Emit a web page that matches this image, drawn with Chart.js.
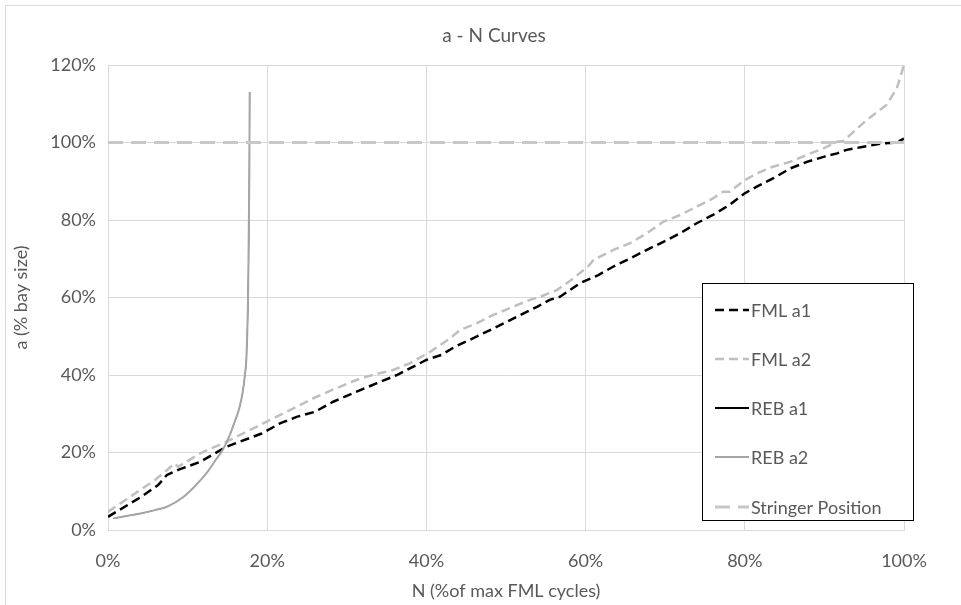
<!DOCTYPE html>
<html>
<head>
<meta charset="utf-8">
<script src="https://cdn.jsdelivr.net/npm/chart.js@4"></script>
<style>
  html, body { margin: 0; padding: 0; background: #fff; }
  #wrap { position: relative; width: 961px; height: 605px; }
</style>
</head>
<body>
<div id="wrap"><canvas id="c" width="961" height="605"></canvas></div>
<script>
// ---- data ----
const chartTitle = 'a - N Curves';
const xTitle = 'N (%of max FML cycles)';
const yTitle = 'a (% bay size)';
const seriesNames = ['FML a1', 'FML a2', 'REB a1', 'REB a2', 'Stringer Position'];

const fmlA1N = [0, 4.2, 6.3, 7.4, 8.8, 11.6, 14.9, 19.3, 21.6, 23.7, 26, 28.3, 31.7, 33.8, 36.3, 40.0, 41.9, 43.6, 45.9, 48, 49.7, 51.8, 53.9, 55.5, 56.8, 59.3, 61.6, 63.5, 65.6, 67.7, 70.2, 71.9, 73.9, 76, 78.1, 80, 81.5, 83.6, 85.7, 87.8, 89.9, 91.6, 92.8, 94.9, 97.4, 99.1, 100];
const fmlA1  = [3.4, 8.6, 11.6, 14.2, 15.5, 17.6, 21.5, 24.9, 27.5, 29.2, 30.5, 33.1, 36.1, 37.9, 40, 43.9, 45.2, 47.3, 49.5, 51.6, 53.3, 55.5, 57.6, 59.4, 60.2, 63.7, 65.8, 68, 70.1, 72.3, 74.8, 76.6, 79.1, 81.3, 83.9, 86.9, 88.6, 90.8, 93.3, 95, 96.3, 97.2, 98.1, 98.9, 99.8, 100, 101];

const fmlA2N = [0, 5.9, 8.4, 8.8, 11.6, 14.9, 19.9, 23.3, 25.8, 28.1, 31.2, 32.7, 35.8, 37.9, 40.5, 41.7, 43, 44.2, 46.3, 48.4, 50.9, 53, 54.3, 56.4, 58.5, 60.3, 61, 63.5, 65.6, 67.7, 69.8, 71.9, 73.9, 76, 77.3, 78.1, 80, 81.5, 83.6, 85.7, 87.8, 89.9, 91.6, 92.4, 93.2, 95.3, 97.8, 99.1, 100];
const fmlA2  = [4.7, 12.9, 17.2, 16.3, 19.8, 22.8, 27.9, 31.4, 34, 36.1, 38.7, 39.7, 41.3, 43, 46, 47.7, 49.5, 51.6, 53.3, 55.5, 57.6, 59.4, 60.2, 61.9, 65, 68, 69.7, 72.3, 74, 76.6, 79.6, 81.3, 83.4, 85.6, 87.3, 87.3, 90.3, 92, 93.8, 95, 96.8, 98.5, 100.2, 100.4, 101.9, 105.8, 109.7, 114, 120];

const rebN  = [0.7, 2, 4.2, 6, 7.4, 9.5, 11, 12.5, 13.5, 14.5, 15.3, 16, 16.5, 16.9, 17.2, 17.4, 17.6, 17.75, 17.8];
const rebA1 = [3.0, 3.5, 4.3, 5.2, 6.0, 8.6, 11.5, 15, 18, 21, 24.5, 28.4, 31.5, 35.3, 40, 45, 61, 90, 113];
const rebA2 = [3.0, 3.5, 4.3, 5.2, 6.0, 8.6, 11.5, 15, 18, 21, 24.5, 28.4, 31.5, 35.3, 40, 45, 61, 90, 113];

const stringerN = [0, 100];
const stringerA = [100, 100];

const xTickLabels = ['0%', '20%', '40%', '60%', '80%', '100%'];
const yTickLabels = ['0%', '20%', '40%', '60%', '80%', '100%', '120%'];

// ---- build ----
const pts = (xs, ys) => xs.map((x, i) => ({ x: x, y: ys[i] }));
const FONT = 'Lato, "Open Sans", sans-serif';
const TXT = '#595959';

const datasets = [
  { label: seriesNames[0], data: pts(fmlA1N, fmlA1), borderColor: '#000000', borderWidth: 2.5, borderDash: [9, 5], order: 4 },
  { label: seriesNames[1], data: pts(fmlA2N, fmlA2), borderColor: '#BFBFBF', borderWidth: 2.5, borderDash: [9, 5], order: 3 },
  { label: seriesNames[2], data: pts(rebN, rebA1), borderColor: '#000000', borderWidth: 1, cubicInterpolationMode: 'monotone', order: 2 },
  { label: seriesNames[3], data: pts(rebN, rebA2), borderColor: '#A6A6A6', borderWidth: 2, cubicInterpolationMode: 'monotone', order: 1 },
  { label: seriesNames[4], data: pts(stringerN, stringerA), borderColor: '#C8C8C8', borderWidth: 3, borderDash: [15, 8], order: 0 }
].map(d => Object.assign({ showLine: true, pointRadius: 0, pointHoverRadius: 0, fill: false, tension: 0, borderCapStyle: 'butt' }, d));

const legendWidths = [2.5, 2.5, 2, 2, 3];

const decor = {
  id: 'decor',
  beforeDraw(chart) {
    const ctx = chart.ctx;
    ctx.save();
    ctx.fillStyle = '#fff';
    ctx.fillRect(0, 0, chart.width, chart.height);
    ctx.strokeStyle = '#D9D9D9';
    ctx.lineWidth = 1;
    ctx.beginPath();
    ctx.moveTo(5.5, chart.height + 2);
    ctx.lineTo(5.5, 5.5);
    ctx.lineTo(chart.width + 2, 5.5);
    ctx.stroke();
    ctx.fillStyle = TXT;
    ctx.font = '19px ' + FONT;
    ctx.textAlign = 'center';
    ctx.textBaseline = 'middle';
    ctx.fillText(chartTitle, 494, 36);
    ctx.restore();
  },
  afterDraw(chart) {
    const ctx = chart.ctx;
    ctx.save();
    const bx = 702.5, by = 283.5, bw = 211, bh = 237;
    ctx.fillStyle = '#fff';
    ctx.fillRect(bx, by, bw, bh);
    ctx.strokeStyle = '#000';
    ctx.lineWidth = 1;
    ctx.strokeRect(bx, by, bw, bh);
    const rows = [310, 359, 408, 457, 507];
    ctx.font = '18px ' + FONT;
    ctx.textAlign = 'left';
    ctx.textBaseline = 'middle';
    chart.data.datasets.forEach((ds, i) => {
      const y = rows[i];
      ctx.save();
      ctx.strokeStyle = ds.borderColor;
      ctx.lineWidth = legendWidths[i];
      ctx.setLineDash(ds.borderDash || []);
      ctx.beginPath();
      ctx.moveTo(715, y);
      ctx.lineTo(749, y);
      ctx.stroke();
      ctx.restore();
      ctx.fillStyle = TXT;
      ctx.fillText(ds.label, 751, y + 1);
    });
    ctx.restore();
  }
};

new Chart(document.getElementById('c'), {
  type: 'scatter',
  data: { datasets: datasets },
  plugins: [decor],
  options: {
    responsive: false,
    animation: false,
    events: [],
    layout: { padding: { left: 0, right: 57, top: 65, bottom: 0 } },
    plugins: { legend: { display: false }, title: { display: false }, tooltip: { enabled: false } },
    scales: {
      x: {
        type: 'linear', min: 0, max: 100,
        afterFit(s) { s.height = 75; },
        afterBuildTicks(s) { s.ticks = xTickLabels.map((_, i) => ({ value: i * 20 })); },
        ticks: { stepSize: 20, padding: 20, color: TXT, font: { family: FONT, size: 18 }, callback: (v, i) => xTickLabels[i], maxRotation: 0 },
        grid: { color: '#D9D9D9', lineWidth: 1, drawTicks: false },
        border: { color: '#D9D9D9', width: 1 },
        title: { display: true, text: xTitle, color: TXT, font: { family: FONT, size: 18 }, padding: { top: 0, bottom: 3 } }
      },
      y: {
        type: 'linear', min: 0, max: 120,
        afterFit(s) { s.width = 108; },
        afterBuildTicks(s) { s.ticks = yTickLabels.map((_, i) => ({ value: i * 20 })); },
        ticks: { stepSize: 20, padding: 12, color: TXT, font: { family: FONT, size: 18 }, callback: (v, i) => yTickLabels[i] },
        grid: { color: '#D9D9D9', lineWidth: 1, drawTicks: false },
        border: { color: '#D9D9D9', width: 1 },
        title: { display: true, text: yTitle, color: TXT, font: { family: FONT, size: 18 }, padding: { top: 10, bottom: 0 } }
      }
    }
  }
});
</script>
</body>
</html>
